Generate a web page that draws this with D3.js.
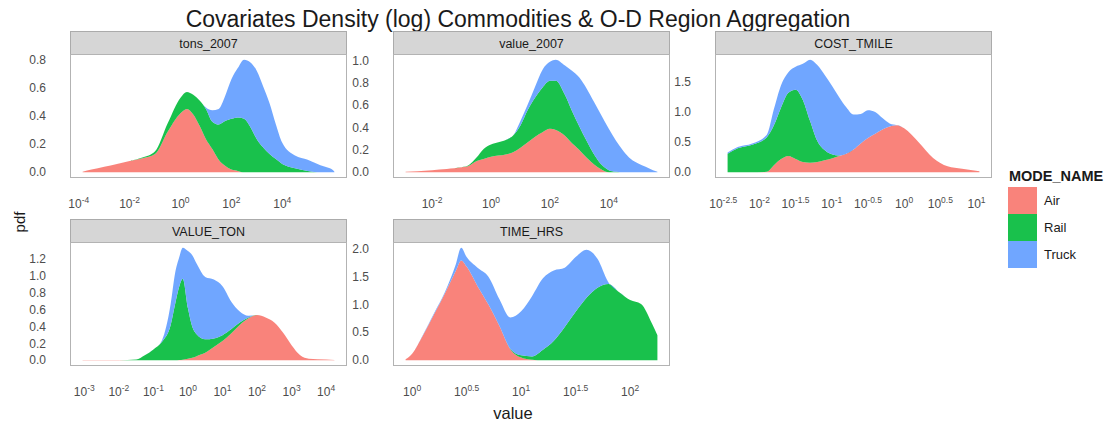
<!DOCTYPE html>
<html>
<head>
<meta charset="utf-8">
<script src="https://cdn.jsdelivr.net/npm/d3@7"></script>
<style>
body { margin: 0; background: #fff; }
text { font-family: "Liberation Sans", Arial, sans-serif; }
</style>
</head>
<body>
<script>
//Width and height
var w = 1114;
var h = 426;

var modes = ["Air", "Rail", "Truck"];
var modeColors = ["#F8766D", "#00BA38", "#619CFF"];

// tons_2007  (x = log10 value, densities per mode)
var tonsLog   = [-3.85, -3.5, -3, -2.5, -2, -1.5, -1, -0.5, 0, 0.25, 0.5, 0.75, 1, 1.25, 1.5, 1.75, 2, 2.25, 2.5, 2.75, 3, 3.25, 3.5, 3.75, 4, 4.5, 5, 5.5, 6, 6.05];
var tonsAir   = [.005, .02, .04, .06, .08, .10, .13, .29, .42, .45, .41, .33, .235, .165, .09, .047, .02, .01, 0, 0, 0, 0, 0, 0, 0, 0, 0, 0, 0, 0];
var tonsRail  = [0, 0, 0, 0, 0, .005, .02, .06, .11, .12, .14, .18, .215, .195, .25, .318, .36, .38, .38, .32, .235, .176, .13, .094, .06, .03, .01, 0, 0, 0];
var tonsTruck = [0, 0, 0, 0, 0, 0, 0, 0, 0, 0, 0, 0, .01, .08, .11, .175, .28, .35, .42, .46, .485, .434, .36, .246, .15, .09, .08, .05, .015, .004];
var tonsXTicks = [-4, -2, 0, 2, 4];
var tonsYTicks = [0, 0.2, 0.4, 0.6, 0.8];

// value_2007
var valueLog   = [-2.9, -2.5, -2, -1.5, -1, -0.75, -0.5, -0.25, 0, 0.25, 0.5, 0.75, 1, 1.25, 1.5, 1.75, 2, 2.2, 2.5, 2.75, 3, 3.25, 3.5, 3.75, 4, 4.25, 4.5, 4.75, 5, 5.25, 5.5, 5.65];
var valueAir   = [.005, .01, .02, .03, .045, .06, .10, .12, .14, .15, .16, .18, .22, .27, .32, .36, .39, .38, .33, .26, .20, .13, .07, .025, 0, 0, 0, 0, 0, 0, 0, 0];
var valueRail  = [0, 0, 0, 0, 0, .005, .03, .09, .11, .12, .13, .15, .20, .29, .35, .40, .43, .44, .37, .29, .21, .15, .09, .045, .02, .005, 0, 0, 0, 0, 0, 0];
var valueTruck = [0, 0, 0, 0, 0, 0, 0, 0, 0, 0, 0, 0, .04, .05, .10, .16, .17, .19, .26, .36, .44, .47, .47, .44, .37, .275, .19, .12, .08, .05, .02, .005];
var valueXTicks = [-2, 0, 2, 4];
var valueYTicks = [0, 0.2, 0.4, 0.6, 0.8, 1.0];

// COST_TMILE
var costLog   = [-2.44, -2.3, -2.1, -1.9, -1.8, -1.7, -1.6, -1.5, -1.4, -1.3, -1.2, -1.1, -1.0, -0.9, -0.8, -0.7, -0.6, -0.5, -0.4, -0.3, -0.2, -0.1, 0, 0.2, 0.4, 0.6, 0.8, 1.04];
var costAir   = [0, 0, 0, .01, .12, .22, .27, .22, .17, .16, .17, .20, .23, .27, .31, .38, .48, .57, .64, .71, .76, .78, .73, .50, .24, .10, .06, .02];
var costRail  = [.31, .40, .46, .57, .66, .86, 1.05, 1.15, 1.03, .69, .35, .17, .07, .01, 0, 0, 0, 0, 0, 0, 0, 0, 0, 0, 0, 0, 0, 0];
var costTruck = [.02, .02, .02, .04, .27, .37, .34, .38, .60, 1.02, 1.26, 1.25, 1.14, .97, .77, .58, .49, .46, .36, .19, .05, 0, 0, 0, 0, 0, 0, 0];
var costXTicks = [-2.5, -2, -1.5, -1, -0.5, 0, 0.5, 1];
var costYTicks = [0, 0.5, 1.0, 1.5];

// VALUE_TON
var vtonLog   = [-3.05, -2.5, -2, -1.5, -1.25, -1.0, -0.75, -0.5, -0.375, -0.25, -0.15, 0, 0.125, 0.25, 0.5, 0.75, 1.0, 1.25, 1.5, 1.75, 2.0, 2.25, 2.5, 2.75, 3.0, 3.25, 3.5, 4.0, 4.24];
var vtonAir   = [.004, .004, .004, 0, 0, 0, 0, 0, 0, .003, .008, .02, .03, .05, .09, .16, .23, .32, .42, .50, .54, .51, .45, .33, .18, .06, .02, .01, .004];
var vtonRail  = [0, 0, 0, .01, .06, .13, .22, .42, .66, .877, .962, .60, .37, .26, .16, .10, .07, .05, .03, .01, 0, 0, 0, 0, 0, 0, 0, 0, 0];
var vtonTruck = [0, 0, 0, 0, 0, 0, .02, .25, .37, .35, .37, .68, .85, .84, .74, .70, .58, .33, .13, .02, 0, 0, 0, 0, 0, 0, 0, 0, 0];
var vtonXTicks = [-3, -2, -1, 0, 1, 2, 3, 4];
var vtonYTicks = [0, 0.2, 0.4, 0.6, 0.8, 1.0, 1.2];

// TIME_HRS
var timeLog   = [-0.06, 0, 0.1, 0.2, 0.3, 0.4, 0.45, 0.5, 0.6, 0.7, 0.8, 0.9, 1.0, 1.1, 1.2, 1.3, 1.4, 1.5, 1.6, 1.7, 1.8, 1.9, 2.0, 2.1, 2.2, 2.25];
var timeAir   = [.02, .12, .45, .82, 1.2, 1.6, 1.79, 1.68, 1.33, 1.0, .62, .2, .05, .01, 0, 0, 0, 0, 0, 0, 0, 0, 0, 0, 0, 0];
var timeRail  = [0, 0, 0, 0, 0, 0, 0, 0, 0, 0, 0, .01, .04, .06, .19, .35, .60, .87, 1.12, 1.30, 1.37, 1.22, 1.08, 1.01, .66, .45];
var timeTruck = [0, 0, .01, .02, .02, .12, .23, .17, .33, .5, .48, .56, .79, 1.08, 1.28, 1.26, 1.06, .98, .86, .52, .03, 0, 0, 0, 0, 0];
var timeXTicks = [0, 0.5, 1, 1.5, 2];
var timeYTicks = [0, 0.5, 1.0, 1.5, 2.0];

var panels = [
  {name: "tons_2007",  col: 0, row: 0, logs: tonsLog,  Air: tonsAir,  Rail: tonsRail,  Truck: tonsTruck,  xTicks: tonsXTicks,  yTicks: tonsYTicks},
  {name: "value_2007", col: 1, row: 0, logs: valueLog, Air: valueAir, Rail: valueRail, Truck: valueTruck, xTicks: valueXTicks, yTicks: valueYTicks},
  {name: "COST_TMILE", col: 2, row: 0, logs: costLog,  Air: costAir,  Rail: costRail,  Truck: costTruck,  xTicks: costXTicks,  yTicks: costYTicks},
  {name: "VALUE_TON",  col: 0, row: 1, logs: vtonLog,  Air: vtonAir,  Rail: vtonRail,  Truck: vtonTruck,  xTicks: vtonXTicks,  yTicks: vtonYTicks},
  {name: "TIME_HRS",   col: 1, row: 1, logs: timeLog,  Air: timeAir,  Rail: timeRail,  Truck: timeTruck,  xTicks: timeXTicks,  yTicks: timeYTicks}
];

// facet layout
var colLeft = [70, 393, 715];
var panelW = 277;
var stripTop = [31, 219];
var stripH = 23;
var panelH = 124;

var svg = d3.select("body")
    .append("svg")
    .attr("width", w)
    .attr("height", h);

svg.append("text")
    .attr("x", 518)
    .attr("y", 27)
    .attr("text-anchor", "middle")
    .attr("font-size", "23px")
    .attr("fill", "#1a1a1a")
    .text("Covariates Density (log) Commodities & O-D Region Aggregation");

var color = d3.scaleOrdinal().domain(modes).range(modeColors);
var fmt = d3.format(".1f");

panels.forEach(function(p) {
    var left = colLeft[p.col];
    var sTop = stripTop[p.row];
    var top = sTop + stripH;
    var bottom = top + panelH;

    var rows = p.logs.map(function(l, i) {
        return {x: l, Air: p.Air[i], Rail: p.Rail[i], Truck: p.Truck[i]};
    });
    var series = d3.stack().keys(modes)(rows);

    var ext = d3.extent(p.logs);
    var padX = (ext[1] - ext[0]) * 0.05;
    var x = d3.scaleLinear()
        .domain([ext[0] - padX, ext[1] + padX])
        .range([left, left + panelW]);

    var maxY = d3.max(series[series.length - 1], function(d) { return d[1]; });
    var y = d3.scaleLinear()
        .domain([-0.05 * maxY, 1.05 * maxY])
        .range([bottom, top]);

    var g = svg.append("g");

    // strip
    g.append("rect")
        .attr("x", left + 0.5)
        .attr("y", sTop + 0.5)
        .attr("width", panelW - 1)
        .attr("height", stripH)
        .attr("fill", "#d6d6d6")
        .attr("stroke", "#ababab");

    g.append("text")
        .attr("x", left + panelW / 2)
        .attr("y", sTop + stripH / 2 + 1)
        .attr("text-anchor", "middle")
        .attr("dominant-baseline", "central")
        .attr("font-size", "12.5px")
        .attr("fill", "#1a1a1a")
        .text(p.name);

    // panel
    g.append("rect")
        .attr("x", left + 0.5)
        .attr("y", top + 0.5)
        .attr("width", panelW - 1)
        .attr("height", panelH - 1)
        .attr("fill", "#fff")
        .attr("stroke", "#b3b3b3");

    var area = d3.area()
        .x(function(d) { return x(d.data.x); })
        .y0(function(d) { return y(d[0]); })
        .y1(function(d) { return y(d[1]); })
        .curve(d3.curveMonotoneX);

    g.selectAll(".layer")
        .data(series)
        .enter()
        .append("path")
        .attr("class", "layer")
        .attr("fill", function(d) { return color(d.key); })
        .attr("fill-opacity", 0.9)
        .attr("d", area);

    // y tick labels
    g.selectAll(".ylab")
        .data(p.yTicks)
        .enter()
        .append("text")
        .attr("class", "ylab")
        .attr("x", left - 24)
        .attr("y", function(d) { return y(d); })
        .attr("text-anchor", "end")
        .attr("dominant-baseline", "central")
        .attr("font-size", "12px")
        .attr("fill", "#4d4d4d")
        .text(fmt);

    // x tick labels 10^k
    var xl = g.selectAll(".xlab")
        .data(p.xTicks)
        .enter()
        .append("text")
        .attr("class", "xlab")
        .attr("x", function(d) { return x(d); })
        .attr("y", bottom + 30)
        .attr("text-anchor", "middle")
        .attr("font-size", "12px")
        .attr("fill", "#4d4d4d");
    xl.append("tspan").text("10");
    xl.append("tspan")
        .attr("dy", -5)
        .attr("font-size", "8.5px")
        .text(function(d) { return String(d); });
});

// axis titles
svg.append("text")
    .attr("transform", "translate(25,222) rotate(-90)")
    .attr("text-anchor", "middle")
    .attr("font-size", "15px")
    .attr("fill", "#1a1a1a")
    .text("pdf");

svg.append("text")
    .attr("x", 513)
    .attr("y", 419)
    .attr("text-anchor", "middle")
    .attr("font-size", "16.5px")
    .attr("fill", "#1a1a1a")
    .text("value");

// legend
var legend = svg.append("g");
legend.append("text")
    .attr("x", 1009)
    .attr("y", 181)
    .attr("font-size", "14.5px")
    .attr("font-weight", "bold")
    .attr("fill", "#1a1a1a")
    .text("MODE_NAME");

legend.selectAll(".key")
    .data(modes)
    .enter()
    .append("rect")
    .attr("class", "key")
    .attr("x", 1008)
    .attr("y", function(d, i) { return 187 + i * 27; })
    .attr("width", 29)
    .attr("height", 27)
    .attr("fill", function(d) { return color(d); })
    .attr("fill-opacity", 0.9);

legend.selectAll(".keylab")
    .data(modes)
    .enter()
    .append("text")
    .attr("class", "keylab")
    .attr("x", 1044)
    .attr("y", function(d, i) { return 187 + i * 27 + 13.5; })
    .attr("dominant-baseline", "central")
    .attr("font-size", "13px")
    .attr("fill", "#1a1a1a")
    .text(function(d) { return d; });
</script>
</body>
</html>
